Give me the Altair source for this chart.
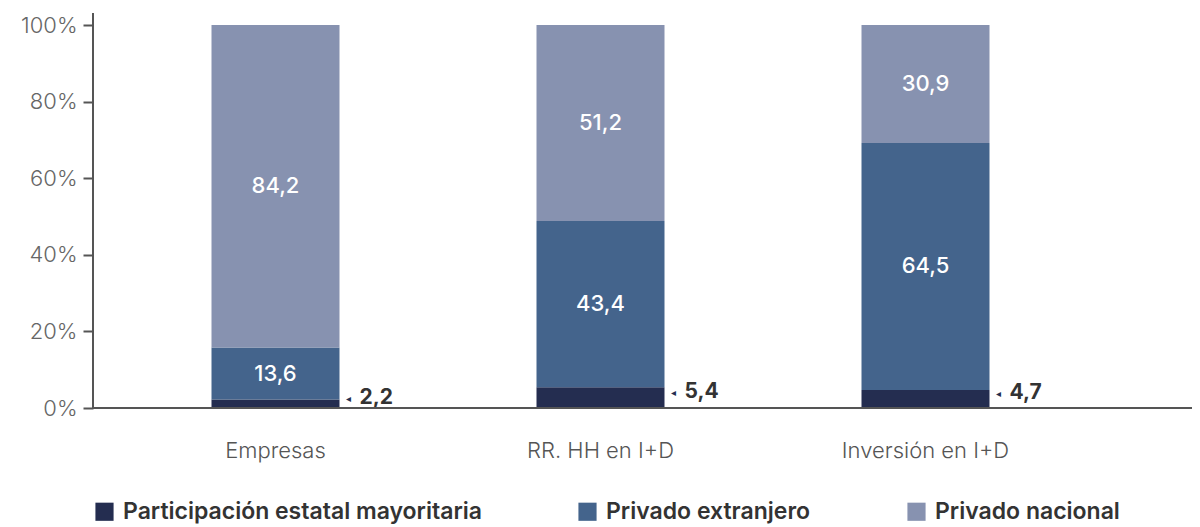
import altair as alt
import pandas as pd

categories = ["Empresas", "RR. HH en I+D", "Inversión en I+D"]
series = ["Participación estatal mayoritaria", "Privado extranjero", "Privado nacional"]
estatal = [2.2, 5.4, 4.7]
extranjero = [13.6, 43.4, 64.5]
nacional = [84.2, 51.2, 30.9]
colors = ["#242d50", "#44648c", "#8792b0"]
y_ticks = [0, 20, 40, 60, 80, 100]

rows = []
for i, c in enumerate(categories):
    base = 0.0
    for k, (s, vals) in enumerate(zip(series, [estatal, extranjero, nacional])):
        v = vals[i]
        rows.append(dict(cat=c, serie=s, k=k, val=v, y0=base, y1=min(base + v, 100),
                         ymid=base + v / 2, label=f"{v:.1f}".replace(".", ",")))
        base += v
df = pd.DataFrame(rows)

W, H = 1099, 383
FONT = "Inter"

xscale = alt.Scale(domain=categories, range=[20, 995], paddingInner=0.606, paddingOuter=0.303)
yscale = alt.Scale(domain=[0, 100], clamp=True, nice=False)

base = alt.Chart(df)

bars = base.mark_bar(size=128).encode(
    x=alt.X("cat:N", scale=xscale, sort=categories,
            axis=alt.Axis(title=None, labelAngle=0, ticks=False, domain=False, grid=False,
                          labelFontSize=22, labelColor="#555", labelFontWeight=300,
                          labelFont=FONT, labelPadding=32)),
    y=alt.Y("y0:Q", scale=yscale,
            axis=alt.Axis(title=None, values=y_ticks, labelExpr="datum.value + '%'",
                          grid=False, domain=False, tickSize=10, tickColor="#555",
                          tickWidth=2, labelFontSize=22, labelColor="#666",
                          labelFontWeight=300, labelFont=FONT, labelPadding=6)),
    y2="y1:Q",
    color=alt.Color("serie:N", scale=alt.Scale(domain=series, range=colors),
                    legend=alt.Legend(title=None, orient="none", legendX=0, legendY=475,
                                      direction="horizontal", columns=3,
                                      symbolType="square", symbolSize=330,
                                      symbolStrokeWidth=0, symbolOpacity=1,
                                      labelFontSize=23, labelFont=FONT,
                                      labelFontWeight=600, labelColor="#333",
                                      labelOffset=7, columnPadding=94,
                                      labelLimit=600)),
)

inner = base.transform_filter("datum.k > 0").mark_text(
    color="white", fontSize=22, fontWeight=500, font=FONT, baseline="middle"
).encode(
    x=alt.X("cat:N", scale=xscale, sort=categories),
    y=alt.Y("ymid:Q", scale=yscale),
    text="label:N",
)

outer_tri = base.transform_filter("datum.k == 0").mark_text(
    color="#242d50", fontSize=10, font="DejaVu Sans", baseline="middle", align="center",
    dx=9, dy=-5
).encode(
    x=alt.X("cat:N", scale=xscale, sort=categories, bandPosition=1),
    y=alt.Y("ymid:Q", scale=yscale),
    text=alt.value("◂"),
)

outer_txt = base.transform_filter("datum.k == 0").mark_text(
    color="#333", fontSize=21, fontWeight="bold", font=FONT, baseline="middle", align="left",
    dx=20, dy=-6
).encode(
    x=alt.X("cat:N", scale=xscale, sort=categories, bandPosition=1),
    y=alt.Y("ymid:Q", scale=yscale),
    text="label:N",
)

xline = base.mark_rule(color="#555", strokeWidth=2).encode(
    x=alt.value(0), x2=alt.value(W), y=alt.value(H)
)
yline = base.mark_rule(color="#555", strokeWidth=2).encode(
    x=alt.value(0), y=alt.value(-12), y2=alt.value(H)
)

chart = (
    alt.layer(bars, inner, outer_tri, outer_txt, xline, yline)
    .properties(
        width=W, height=H,
        autosize=alt.AutoSizeParams(type="none"),
        padding={"left": 85, "top": 17, "right": 0, "bottom": 119},
    )
    .configure(font=FONT)
    .configure_view(strokeWidth=0, stroke="transparent")
    .configure_axis(grid=False)
)

chart.save("out.html", embed_options={"renderer": "svg", "actions": False})
